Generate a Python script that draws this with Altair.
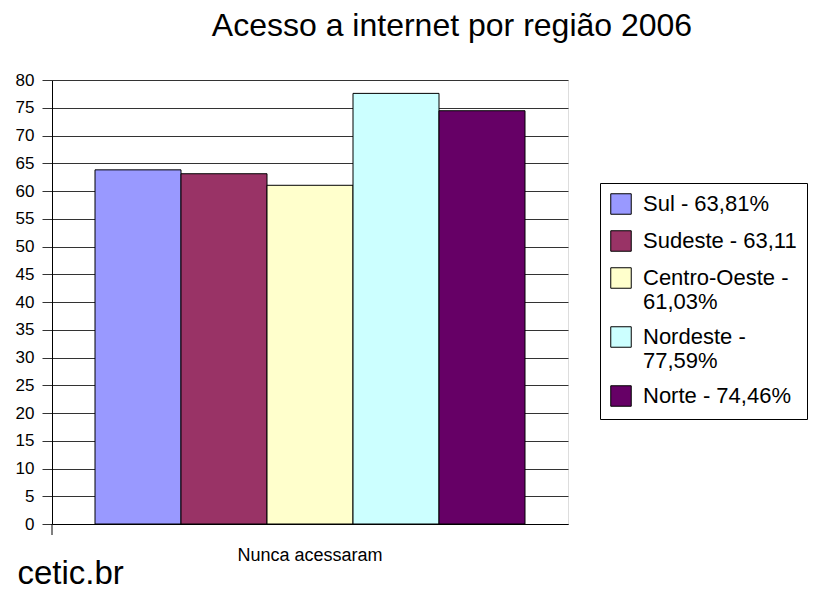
import altair as alt
import pandas as pd

regions = ["Sul", "Sudeste", "Centro-Oeste", "Nordeste", "Norte"]
values = [63.81, 63.11, 61.03, 77.59, 74.46]
legend_labels = ["Sul - 63,81%", "Sudeste - 63,11", "Centro-Oeste -|61,03%",
                 "Nordeste -|77,59%", "Norte - 74,46%"]
colors = ["#9999FF", "#993366", "#FFFFCC", "#CCFFFF", "#660066"]
category = "Nunca acessaram"
y_ticks = list(range(0, 81, 5))

df = pd.DataFrame({
    "categoria": [category] * len(regions),
    "regiao": legend_labels,
    "valor": values,
})

FONT = "Liberation Sans"
GRID = "#333333"

bars = alt.Chart(df).mark_bar(stroke="black", strokeWidth=1).encode(
    x=alt.X("categoria:N", title="cetic.br",
            scale=alt.Scale(paddingOuter=0.1, paddingInner=0),
            axis=alt.Axis(labelAngle=0, labelFontSize=18, labelFont=FONT,
                          labelColor="black", labelPadding=22, ticks=False,
                          tickSize=0, domainColor="black",
                          titleFont=FONT, titleFontSize=33, titleFontWeight="normal",
                          titleColor="black", titleAlign="left",
                          titleBaseline="alphabetic", titleX=-35, titleY=59)),
    xOffset=alt.XOffset("regiao:N", scale=alt.Scale(domain=legend_labels, paddingInner=0, paddingOuter=0)),
    y=alt.Y("valor:Q", title=None,
            scale=alt.Scale(domain=[0, 80], nice=False),
            axis=alt.Axis(values=y_ticks, tickSize=10, tickColor=GRID,
                          gridColor=GRID, grid=True, domainColor="black",
                          labelFontSize=17, labelFont=FONT, labelColor="black",
                          labelPadding=8)),
    fill=alt.Fill("regiao:N",
                  scale=alt.Scale(domain=legend_labels, range=colors),
                  legend=alt.Legend(title=None, orient="none", legendX=548, legendY=103,
                                    labelExpr="split(datum.label, '|')",
                                    symbolType="square", symbolSize=420,
                                    symbolStrokeColor="black", symbolStrokeWidth=1,
                                    labelFontSize=22, labelFont=FONT, labelColor="black",
                                    labelLimit=300, labelOffset=11,
                                    strokeColor="black", fillColor="white",
                                    padding=10, rowPadding=11, cornerRadius=0)),
)

tick = alt.Chart(pd.DataFrame({"t": [0]})).mark_rule(color="black").encode(
    x=alt.value(0), y=alt.value(444), y2=alt.value(455)
)

chart = alt.layer(bars, tick).properties(
    width=516, height=444,
    autosize=alt.AutoSizeParams(type="none"),
    padding={"left": 44, "top": 72, "right": 243, "bottom": 65},
    title=alt.TitleParams("Acesso a internet por região 2006", fontSize=32,
                          font=FONT, fontWeight="normal", color="black",
                          anchor="middle", dx=142, offset=28),
).configure_view(stroke=None).configure(background="white")

chart.save("out.html", embed_options={"renderer": "svg", "actions": False})
